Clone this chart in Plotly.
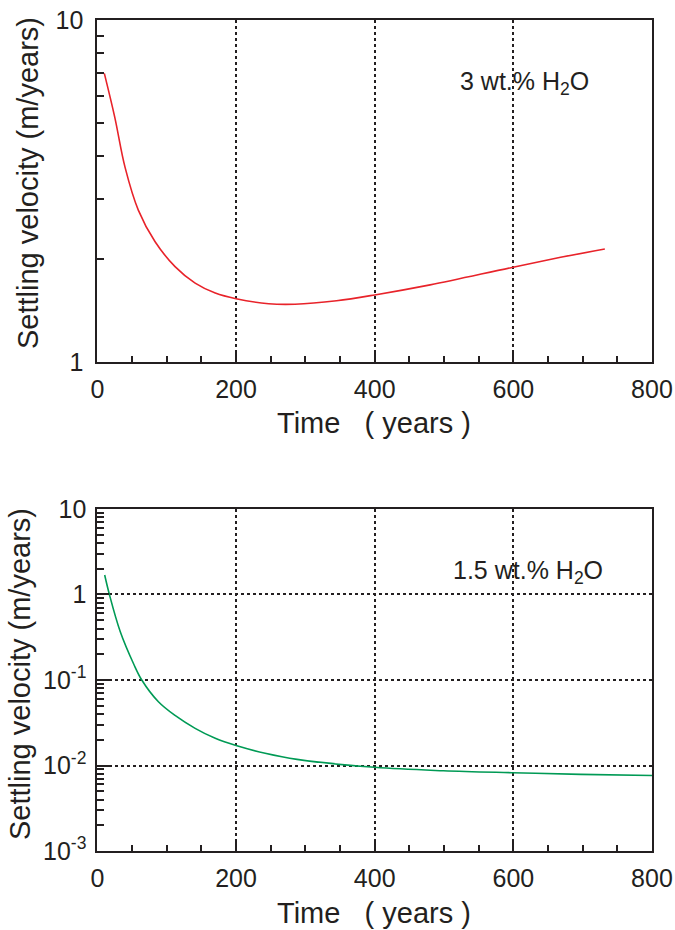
import plotly.graph_objects as go

# ---- data ----
t_3wt = [10, 25, 40, 59, 83, 112, 141, 170, 200, 247, 285, 345, 400, 480, 598, 672, 732]
v_3wt = [6.98, 5.20, 3.70, 2.78, 2.25, 1.90, 1.70, 1.59, 1.53, 1.48, 1.475, 1.51, 1.57, 1.68, 1.89, 2.03, 2.14]

t_15wt = [10.5, 17.3, 33, 52.5, 64, 88, 112, 141, 170, 200, 242, 288, 400, 499, 598, 697, 800]
v_15wt = [1.69, 1.0, 0.367, 0.153, 0.10, 0.0557, 0.0385, 0.0272, 0.0208, 0.0171, 0.0139, 0.0118,
          0.00953, 0.00869, 0.00824, 0.00789, 0.00765]

x_ticks = [0, 200, 400, 600, 800]
y1_ticks = [1, 10]
y1_ticktext = ["1", "10"]
y2_ticks = [0.001, 0.01, 0.1, 1, 10]
y2_ticktext = ["10<sup>-3</sup>", "10<sup>-2</sup>", "10<sup>-1</sup>", "1", "10"]

FONT = "Liberation Sans, Arial, Helvetica, sans-serif"
INK = "#231f20"

fig = go.Figure()
fig.add_trace(go.Scatter(x=t_3wt, y=v_3wt, mode="lines",
                         line=dict(color="#e8232a", width=1.6, shape="spline", smoothing=1.0),
                         xaxis="x", yaxis="y", showlegend=False, hoverinfo="skip"))
fig.add_trace(go.Scatter(x=t_15wt, y=v_15wt, mode="lines",
                         line=dict(color="#009a55", width=1.6, shape="spline", smoothing=1.0),
                         xaxis="x2", yaxis="y2", showlegend=False, hoverinfo="skip"))


def xaxis(domain, anchor):
    return dict(domain=domain, anchor=anchor, range=[0, 800], tickvals=x_ticks, automargin=False,
                ticks="inside", ticklen=12, tickwidth=1.5, tickcolor=INK, ticklabelstandoff=4,
                showline=True, linewidth=2, linecolor=INK, mirror=True,
                showgrid=True, gridcolor=INK, griddash="dot", gridwidth=1.5,
                zeroline=False, tickfont=dict(size=25, color=INK, family=FONT),
                minor=dict(dtick=50, ticks="inside", ticklen=6, tickwidth=1.5, tickcolor=INK, showgrid=False))


minor1 = [i for i in range(2, 10)]
minor2 = [m * 10.0 ** e for e in range(-3, 1) for m in range(2, 10)]

fig.update_layout(
    width=675, height=930,
    margin=dict(l=0, r=0, t=0, b=0),
    paper_bgcolor="white", plot_bgcolor="white",
    font=dict(family=FONT, color=INK),
    xaxis=xaxis([0.1443, 0.9659], "y"),
    xaxis2=xaxis([0.1443, 0.9659], "y2"),
    yaxis=dict(domain=[0.6108, 0.9785], anchor="x", type="log", range=[0, 1], automargin=False,
               tickvals=y1_ticks, ticktext=y1_ticktext, ticks="inside", ticklen=10, tickwidth=1.5, tickcolor=INK,
               ticklabelstandoff=7,
               showline=True, linewidth=2, linecolor=INK, mirror=True, showgrid=False, zeroline=False,
               tickfont=dict(size=25, color=INK, family=FONT),
               minor=dict(tickvals=minor1, ticks="inside", ticklen=7, tickwidth=1.5, tickcolor=INK, showgrid=False)),
    yaxis2=dict(domain=[0.0849, 0.4527], anchor="x2", type="log", range=[-3, 1], automargin=False,
                tickvals=y2_ticks, ticktext=y2_ticktext, ticks="inside", ticklen=12, tickwidth=1.5, tickcolor=INK,
                ticklabelstandoff=4,
                showline=True, linewidth=2, linecolor=INK, mirror=True,
                showgrid=True, gridcolor=INK, griddash="dot", gridwidth=1.5, zeroline=False,
                tickfont=dict(size=25, color=INK, family=FONT),
                minor=dict(tickvals=minor2, ticks="inside", ticklen=7, tickwidth=1.5, tickcolor=INK, showgrid=False)),
)

ann = [
    dict(text="3 wt.% H<sub>2</sub>O", x=520, y=0.816, xref="x", yref="y", xanchor="left", yanchor="middle",
         showarrow=False, font=dict(size=25, color=INK, family=FONT)),
    dict(text="1.5 wt.% H<sub>2</sub>O", x=510, y=0.267, xref="x2", yref="y2", xanchor="left", yanchor="middle",
         showarrow=False, font=dict(size=25, color=INK, family=FONT)),
    dict(text="Settling velocity (m/years)", x=28 / 675, y=1 - 183 / 930, xref="paper", yref="paper",
         textangle=-90, showarrow=False, xanchor="center", yanchor="middle", font=dict(size=29, color=INK, family=FONT)),
    dict(text="Settling velocity (m/years)", x=20 / 675, y=1 - 674 / 930, xref="paper", yref="paper",
         textangle=-90, showarrow=False, xanchor="center", yanchor="middle", font=dict(size=29, color=INK, family=FONT)),
    dict(text="Time   ( years )", x=374 / 675, y=1 - 423 / 930, xref="paper", yref="paper",
         showarrow=False, xanchor="center", yanchor="middle", font=dict(size=29, color=INK, family=FONT)),
    dict(text="Time   ( years )", x=374 / 675, y=1 - 913 / 930, xref="paper", yref="paper",
         showarrow=False, xanchor="center", yanchor="middle", font=dict(size=29, color=INK, family=FONT)),
]
fig.update_layout(annotations=ann)

fig.write_html("out.html", config={"displayModeBar": False},
               post_script="document.body.style.margin='0';document.body.style.overflow='hidden';")
